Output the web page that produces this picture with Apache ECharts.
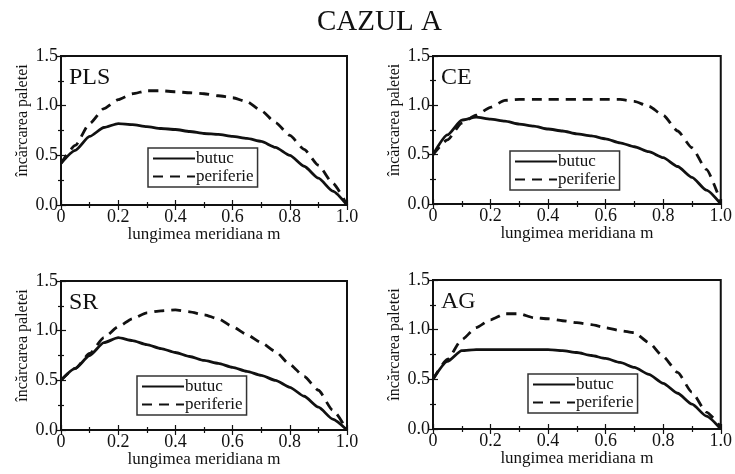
<!DOCTYPE html>
<html>
<head>
  <title>CAZUL A</title>
  <script src="https://cdn.jsdelivr.net/npm/echarts@6/dist/echarts.min.js"></script>
</head>
<body style="margin:0;background:#fff">
  <div id="main" style="width: 735px; height: 474px;"></div>

  <script>
    // lungimea meridiana m (common x positions for every curve)
    var xs = [0, 0.05, 0.1, 0.15, 0.2, 0.25, 0.3, 0.35, 0.4, 0.45, 0.5,
              0.55, 0.6, 0.65, 0.7, 0.75, 0.8, 0.85, 0.9, 0.95, 1.0];

    var panels = ['PLS', 'CE', 'SR', 'AG'];
    var seriesNames = ['butuc', 'periferie'];

    // incarcarea paletei
    var plsButuc     = [0.42, 0.55, 0.69, 0.78, 0.82, 0.81, 0.79, 0.77, 0.76, 0.74, 0.72, 0.71, 0.69, 0.67, 0.64, 0.58, 0.50, 0.39, 0.27, 0.14, 0.0];
    var plsPeriferie = [0.42, 0.60, 0.82, 0.97, 1.06, 1.12, 1.15, 1.15, 1.14, 1.13, 1.12, 1.10, 1.08, 1.04, 0.95, 0.83, 0.70, 0.56, 0.40, 0.22, 0.0];
    var ceButuc      = [0.50, 0.70, 0.85, 0.88, 0.86, 0.84, 0.81, 0.79, 0.76, 0.74, 0.71, 0.69, 0.66, 0.62, 0.58, 0.53, 0.47, 0.38, 0.27, 0.14, 0.0];
    var cePeriferie  = [0.50, 0.65, 0.82, 0.90, 0.98, 1.05, 1.06, 1.06, 1.06, 1.06, 1.06, 1.06, 1.06, 1.06, 1.04, 0.99, 0.90, 0.74, 0.57, 0.35, 0.02];
    var srButuc      = [0.50, 0.62, 0.75, 0.88, 0.93, 0.90, 0.86, 0.82, 0.78, 0.74, 0.70, 0.67, 0.63, 0.59, 0.55, 0.50, 0.43, 0.34, 0.23, 0.11, 0.0];
    var srPeriferie  = [0.50, 0.62, 0.77, 0.93, 1.04, 1.12, 1.18, 1.20, 1.21, 1.19, 1.16, 1.12, 1.04, 0.96, 0.88, 0.79, 0.66, 0.54, 0.40, 0.20, 0.0];
    var agButuc      = [0.50, 0.68, 0.79, 0.80, 0.80, 0.80, 0.80, 0.80, 0.80, 0.79, 0.77, 0.74, 0.71, 0.67, 0.62, 0.55, 0.46, 0.36, 0.25, 0.13, 0.0];
    var agPeriferie  = [0.50, 0.70, 0.90, 1.02, 1.10, 1.16, 1.16, 1.12, 1.11, 1.09, 1.07, 1.05, 1.02, 0.99, 0.97, 0.87, 0.73, 0.57, 0.37, 0.17, 0.02];

    var panelData = [
      [plsButuc, plsPeriferie],
      [ceButuc, cePeriferie],
      [srButuc, srPeriferie],
      [agButuc, agPeriferie]
    ];

    var xTickLabels = { 0: '0', 0.2: '0.2', 0.4: '0.4', 0.6: '0.6', 0.8: '0.8', 1: '1.0' };

    var serif = '"Liberation Serif", "DejaVu Serif", serif';
    var ink = '#111';

    // plot boxes and legend boxes
    var boxes = [
      { left: 61,  top: 56,  width: 286, height: 149 },
      { left: 433, top: 56,  width: 288, height: 148 },
      { left: 61,  top: 281, width: 286, height: 149 },
      { left: 433, top: 280, width: 289, height: 149 }
    ];
    var legendPos = [
      { left: 148, top: 148 },
      { left: 510, top: 151 },
      { left: 137, top: 376 },
      { left: 528, top: 374 }
    ];

    var chart = echarts.init(document.getElementById('main'));

    var grid = [], xAxis = [], yAxis = [], series = [], legend = [];
    var title = [{
      text: 'CAZUL A', left: 312, top: 3,
      textStyle: { fontFamily: serif, fontSize: 29, fontWeight: 'normal', color: ink }
    }];

    var tickLine = { color: ink, width: 1.2 };

    for (var i = 0; i < 4; i++) {
      var b = boxes[i];
      grid.push({ left: b.left, top: b.top, width: b.width, height: b.height,
                  show: true, borderColor: ink, borderWidth: 2, backgroundColor: '#fff' });

      // bottom axis with labels
      xAxis.push({
        type: 'value', gridIndex: i, min: 0, max: 1, interval: 0.2,
        name: 'lungimea meridiana m', nameLocation: 'middle', nameGap: 21,
        nameMoveOverlap: false,
        nameTextStyle: { fontFamily: serif, fontSize: 17, color: ink },
        axisLine: { show: true, lineStyle: { color: ink, width: 2 } },
        axisTick: { inside: true, length: 5, lineStyle: tickLine },
        minorTick: { show: true, splitNumber: 2, length: 3, lineStyle: tickLine },
        axisLabel: { fontFamily: serif, fontSize: 18, color: ink, margin: 3,
                     formatter: function (v) { return xTickLabels[v]; } },
        splitLine: { show: false }
      });
      // top axis, ticks only
      xAxis.push({
        type: 'value', gridIndex: i, min: 0, max: 1, interval: 0.2, position: 'top',
        axisLine: { show: true, lineStyle: { color: ink, width: 2 } },
        axisTick: { inside: true, length: 5, lineStyle: tickLine },
        minorTick: { show: true, splitNumber: 2, length: 3, lineStyle: tickLine },
        axisLabel: { show: false }, splitLine: { show: false }
      });
      // left axis with labels
      yAxis.push({
        type: 'value', gridIndex: i, min: 0, max: 1.5, interval: 0.5,
        name: 'încărcarea paletei', nameLocation: 'middle', nameGap: 30, nameRotate: 90,
        nameMoveOverlap: false,
        nameTextStyle: { fontFamily: serif, fontSize: 16, color: ink, padding: [0, 0, 0, 20] },
        axisLine: { show: true, lineStyle: { color: ink, width: 2 } },
        axisTick: { inside: true, length: 5, lineStyle: tickLine },
        minorTick: { show: true, splitNumber: 2, length: 3, lineStyle: tickLine },
        axisLabel: { fontFamily: serif, fontSize: 18, color: ink, margin: 3,
                     formatter: function (v) { return v.toFixed(1); } },
        splitLine: { show: false }
      });
      // right axis, ticks only
      yAxis.push({
        type: 'value', gridIndex: i, min: 0, max: 1.5, interval: 0.5, position: 'right',
        axisLine: { show: true, lineStyle: { color: ink, width: 2 } },
        axisTick: { inside: true, length: 5, lineStyle: tickLine },
        minorTick: { show: true, splitNumber: 2, length: 3, lineStyle: tickLine },
        axisLabel: { show: false }, splitLine: { show: false }
      });

      for (var s = 0; s < 2; s++) {
        var vals = panelData[i][s];
        series.push({
          name: seriesNames[s], type: 'line',
          xAxisIndex: i * 2, yAxisIndex: i * 2,
          data: xs.map(function (x, k) { return [x, vals[k]]; }),
          symbol: 'none', smooth: 0.2, smoothMonotone: 'x',
          lineStyle: { color: ink, width: 2.8, type: s === 0 ? 'solid' : [10, 7] },
          itemStyle: { color: ink },
          z: 3, silent: true
        });
      }

      legend.push({
        left: legendPos[i].left, top: legendPos[i].top,
        orient: 'vertical', itemGap: 1, itemWidth: 42, itemHeight: 14,
        padding: [2, 4, 2, 4], borderColor: '#333', borderWidth: 1.5,
        backgroundColor: '#fff', selectedMode: false,
        itemStyle: { color: 'rgba(0,0,0,0)', borderWidth: 0, opacity: 0 },
        data: seriesNames,
        textStyle: { fontFamily: serif, fontSize: 17, color: ink, padding: [0, 0, 0, -4] }
      });

      title.push({
        text: panels[i], left: b.left + 3, top: b.top + 5,
        textStyle: { fontFamily: serif, fontSize: 24, fontWeight: 'normal', color: ink }
      });
    }

    var option = {
      backgroundColor: '#fff',
      animation: false,
      title: title,
      legend: legend,
      grid: grid,
      xAxis: xAxis,
      yAxis: yAxis,
      series: series
    };

    option && chart.setOption(option);
  </script>
</body>
</html>
